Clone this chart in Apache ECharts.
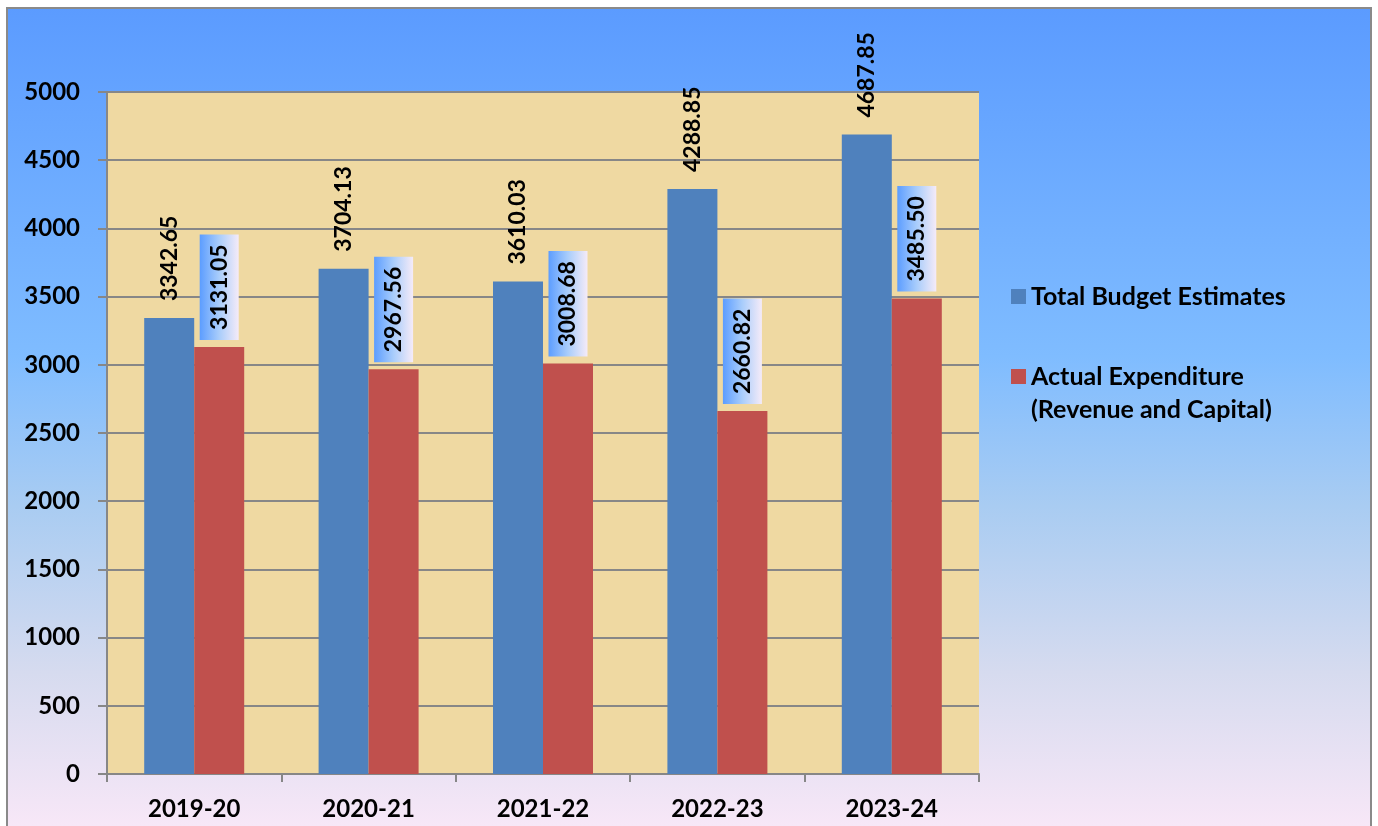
<!DOCTYPE html>
<html>
<head>
<meta charset="utf-8">
<script src="https://cdn.jsdelivr.net/npm/echarts@6/dist/echarts.min.js"></script>
<style>
html,body{margin:0;padding:0;background:#ffffff;}
#chart{width:1378px;height:826px;}
</style>
</head>
<body>
<div id="chart"></div>
<script>
const categories = ['2019-20', '2020-21', '2021-22', '2022-23', '2023-24'];
const budgetEstimates = [3342.65, 3704.13, 3610.03, 4288.85, 4687.85];
const actualExpenditure = [3131.05, 2967.56, 3008.68, 2660.82, 3485.50];
const seriesNames = ['Total Budget Estimates', 'Actual Expenditure\n(Revenue and Capital)'];
const yTicks = { min: 0, max: 5000, interval: 500 };

const FONT = 'Lato';
const chart = echarts.init(document.getElementById('chart'));

const labelBase = {
  show: true,
  position: 'top',
  rotate: 90,
  align: 'left',
  verticalAlign: 'middle',
  distance: 7,
  padding: [8, 10, 8, 10],
  fontFamily: FONT,
  fontWeight: 'bold',
  fontSize: 23,
  color: '#000',
  formatter: p => Number(p.value).toFixed(2)
};

chart.setOption({
  animation: false,
  backgroundColor: '#ffffff',
  graphic: [{
    type: 'rect',
    z: -100,
    silent: true,
    shape: { x: 7, y: 8, width: 1364, height: 830 },
    style: {
      fill: {
        type: 'linear', x: 0, y: 0, x2: 0, y2: 1,
        colorStops: [
          { offset: 0, color: '#5b9bff' },
          { offset: 0.42, color: '#7fbcff' },
          { offset: 0.6, color: '#a9ccf2' },
          { offset: 0.8, color: '#d6dbef' },
          { offset: 1, color: '#fae8f8' }
        ]
      },
      stroke: '#8a8a8a',
      lineWidth: 2
    }
  }],
  grid: {
    left: 107, right: 399, top: 92, bottom: 52,
    show: true,
    backgroundColor: '#efd9a2',
    borderWidth: 0
  },
  legend: [{
    data: [seriesNames[0]],
    orient: 'vertical',
    left: 1011, top: 284,
    padding: 0,
    itemWidth: 15, itemHeight: 15,
    itemGap: 6,
    icon: 'rect',
    formatter: n => n,
    textStyle: { fontFamily: FONT, fontWeight: 'bold', fontSize: 25, color: '#000' }
  }, {
    data: [seriesNames[1]],
    orient: 'vertical',
    left: 1011, top: 327,
    padding: 0,
    itemWidth: 15, itemHeight: 15,
    itemGap: 6,
    icon: 'rect',
    formatter: n => '\n' + n,
    textStyle: { fontFamily: FONT, fontWeight: 'bold', fontSize: 25, color: '#000', lineHeight: 33 }
  }],
  xAxis: {
    type: 'category',
    data: categories,
    axisLine: { lineStyle: { color: '#878787', width: 2 } },
    axisTick: { show: true, length: 8, lineStyle: { color: '#878787', width: 2 } },
    axisLabel: { margin: 23, fontFamily: FONT, fontWeight: 'bold', fontSize: 24, color: '#000' }
  },
  yAxis: {
    type: 'value',
    min: yTicks.min, max: yTicks.max, interval: yTicks.interval,
    axisLine: { show: true, lineStyle: { color: '#878787', width: 2 } },
    axisTick: { show: true, length: 9, lineStyle: { color: '#878787', width: 2 } },
    splitLine: { show: true, lineStyle: { color: '#878787', width: 2 } },
    axisLabel: { margin: 27, fontFamily: FONT, fontWeight: 'bold', fontSize: 24, color: '#000', formatter: v => String(v) }
  },
  series: [{
    name: seriesNames[0],
    type: 'bar',
    data: budgetEstimates,
    barWidth: 50,
    barGap: '0%',
    itemStyle: { color: '#4f81bd' },
    label: Object.assign({}, labelBase)
  }, {
    name: seriesNames[1],
    type: 'bar',
    data: actualExpenditure,
    barWidth: 50,
    barGap: '0%',
    itemStyle: { color: '#c0504d' },
    label: Object.assign({}, labelBase, {
      backgroundColor: {
        type: 'linear', x: 0, y: 0, x2: 0, y2: 1,
        colorStops: [
          { offset: 0, color: '#5c9dff' },
          { offset: 0.5, color: '#a9cdfb' },
          { offset: 1, color: '#f5ebf8' }
        ]
      }
    })
  }]
});
</script>
</body>
</html>
